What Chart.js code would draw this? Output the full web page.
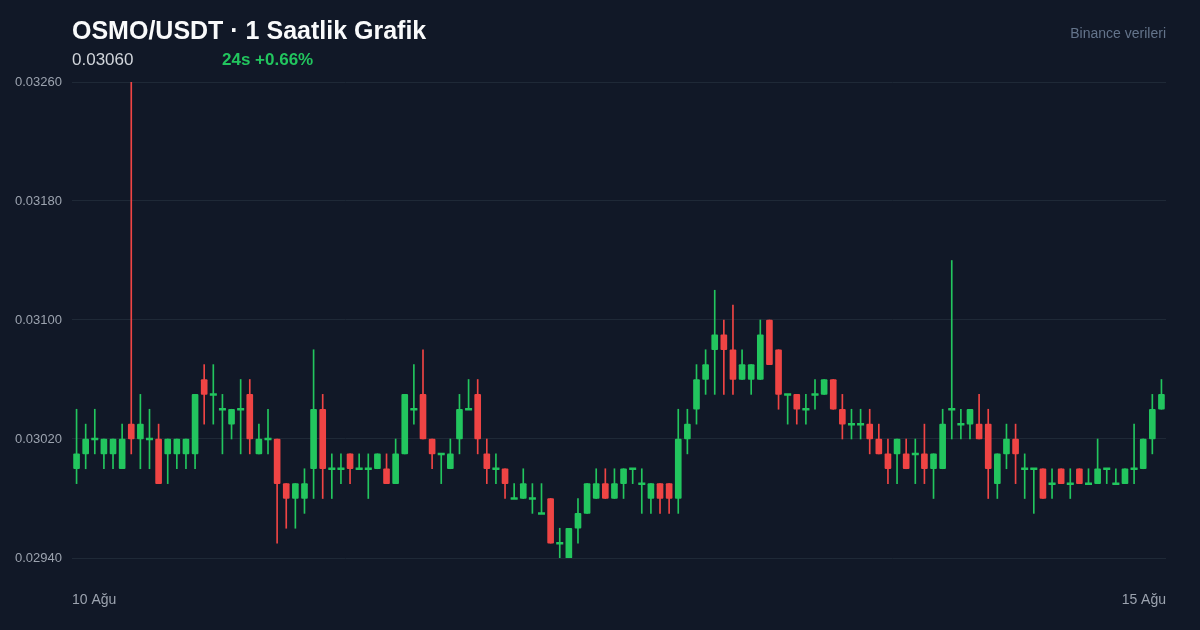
<!DOCTYPE html>
<html lang="tr">
<head>
<meta charset="utf-8">
<title>OSMO/USDT 1 Saatlik Grafik</title>
<script src="https://cdn.jsdelivr.net/npm/chart.js@4.4.0/dist/chart.umd.min.js"></script>
<style>
  html, body { margin: 0; padding: 0; background: #111827; }
  #wrap { position: relative; width: 1200px; height: 630px; overflow: hidden;
          font-family: "Liberation Sans", Arial, sans-serif; }
  #chart { position: absolute; left: 0; top: 0; }
  .title { position: absolute; left: 72px; top: 15px; line-height: 30px;
           font-size: 25px; font-weight: bold; color: #f9fafb; }
  .price { position: absolute; left: 72px; top: 50px; line-height: 20px;
           font-size: 17px; color: #d1d5db; }
  .change { position: absolute; left: 222px; top: 50px; line-height: 20px;
            font-size: 17px; font-weight: bold; color: #22c55e; }
  .source { position: absolute; right: 34px; top: 23px; line-height: 20px;
            font-size: 14px; color: #64748b; }
</style>
</head>
<body>
<div id="wrap">
  <canvas id="chart" width="1200" height="630"></canvas>
  <div class="title">OSMO/USDT · 1 Saatlik Grafik</div>
  <div class="price">0.03060</div>
  <div class="change">24s +0.66%</div>
  <div class="source">Binance verileri</div>
</div>
<script>
// hourly candles, 10 Ağu -> 15 Ağu
const opens = [
  0.0300, 0.0301, 0.0302, 0.0301, 0.0301, 0.0300, 0.0303, 0.0302, 0.0302, 0.0302,
  0.0301, 0.0301, 0.0301, 0.0301, 0.0306, 0.0305, 0.0304, 0.0303, 0.0304, 0.0305,
  0.0301, 0.0302, 0.0302, 0.0299, 0.0298, 0.0298, 0.0300, 0.0304, 0.0300, 0.0300,
  0.0301, 0.0300, 0.0300, 0.0300, 0.0300, 0.0299, 0.0301, 0.0304, 0.0305, 0.0302,
  0.0301, 0.0300, 0.0302, 0.0304, 0.0305, 0.0301, 0.0300, 0.0300, 0.0298, 0.0298,
  0.0298, 0.0297, 0.0298, 0.0295, 0.0294, 0.0296, 0.0297, 0.0298, 0.0299, 0.0298,
  0.0299, 0.0300, 0.0299, 0.0298, 0.0299, 0.0299, 0.0298, 0.0302, 0.0304, 0.0306,
  0.0308, 0.0309, 0.0308, 0.0306, 0.0306, 0.0306, 0.0310, 0.0308, 0.0305, 0.0305,
  0.0304, 0.0305, 0.0305, 0.0306, 0.0304, 0.0303, 0.0303, 0.0303, 0.0302, 0.0301,
  0.0301, 0.0301, 0.0301, 0.0301, 0.0300, 0.0300, 0.0304, 0.0303, 0.0303, 0.0303,
  0.0303, 0.0299, 0.0301, 0.0302, 0.0300, 0.0300, 0.0300, 0.0299, 0.0300, 0.0299,
  0.0300, 0.0299, 0.0299, 0.0300, 0.0299, 0.0299, 0.0300, 0.0300, 0.0302, 0.0304
];
const highs = [
  0.0304, 0.0303, 0.0304, 0.0302, 0.0302, 0.0303, 0.0326, 0.0305, 0.0304, 0.0303,
  0.0302, 0.0302, 0.0302, 0.0305, 0.0307, 0.0307, 0.0305, 0.0304, 0.0306, 0.0306,
  0.0303, 0.0304, 0.0302, 0.0299, 0.0299, 0.0300, 0.0308, 0.0305, 0.0301, 0.0301,
  0.0301, 0.0301, 0.0301, 0.0301, 0.0301, 0.0302, 0.0305, 0.0307, 0.0308, 0.0302,
  0.0301, 0.0302, 0.0305, 0.0306, 0.0306, 0.0302, 0.0301, 0.0300, 0.0299, 0.0300,
  0.0299, 0.0299, 0.0298, 0.0296, 0.0296, 0.0298, 0.0299, 0.0300, 0.0300, 0.0300,
  0.0300, 0.0300, 0.0300, 0.0299, 0.0299, 0.0299, 0.0304, 0.0304, 0.0307, 0.0308,
  0.0312, 0.0310, 0.0311, 0.0308, 0.0307, 0.0310, 0.0310, 0.0308, 0.0305, 0.0305,
  0.0305, 0.0306, 0.0306, 0.0306, 0.0305, 0.0304, 0.0304, 0.0304, 0.0303, 0.0302,
  0.0302, 0.0302, 0.0302, 0.0303, 0.0301, 0.0304, 0.0314, 0.0304, 0.0304, 0.0305,
  0.0304, 0.0301, 0.0303, 0.0303, 0.0301, 0.0300, 0.0300, 0.0300, 0.0300, 0.0300,
  0.0300, 0.0300, 0.0302, 0.0300, 0.0300, 0.0300, 0.0303, 0.0302, 0.0305, 0.0306
];
const lows = [
  0.0299, 0.0300, 0.0301, 0.0300, 0.0300, 0.0300, 0.0301, 0.0300, 0.0300, 0.0299,
  0.0299, 0.0300, 0.0300, 0.0300, 0.0303, 0.0303, 0.0301, 0.0302, 0.0301, 0.0301,
  0.0301, 0.0301, 0.0295, 0.0296, 0.0296, 0.0297, 0.0298, 0.0298, 0.0298, 0.0299,
  0.0299, 0.0300, 0.0298, 0.0300, 0.0299, 0.0299, 0.0301, 0.0303, 0.0302, 0.0300,
  0.0299, 0.0300, 0.0301, 0.0304, 0.0301, 0.0299, 0.0299, 0.0298, 0.0298, 0.0298,
  0.0297, 0.0297, 0.0295, 0.0294, 0.0294, 0.0295, 0.0297, 0.0298, 0.0298, 0.0298,
  0.0298, 0.0299, 0.0297, 0.0297, 0.0297, 0.0297, 0.0297, 0.0301, 0.0303, 0.0305,
  0.0305, 0.0305, 0.0305, 0.0306, 0.0305, 0.0306, 0.0307, 0.0304, 0.0303, 0.0303,
  0.0303, 0.0304, 0.0305, 0.0304, 0.0302, 0.0302, 0.0302, 0.0301, 0.0301, 0.0299,
  0.0299, 0.0300, 0.0299, 0.0299, 0.0298, 0.0300, 0.0302, 0.0302, 0.0302, 0.0302,
  0.0298, 0.0298, 0.0300, 0.0299, 0.0298, 0.0297, 0.0298, 0.0298, 0.0299, 0.0298,
  0.0299, 0.0299, 0.0299, 0.0299, 0.0299, 0.0299, 0.0299, 0.0300, 0.0301, 0.0304
];
const closes = [
  0.0301, 0.0302, 0.0302, 0.0302, 0.0302, 0.0302, 0.0302, 0.0303, 0.0302, 0.0299,
  0.0302, 0.0302, 0.0302, 0.0305, 0.0305, 0.0305, 0.0304, 0.0304, 0.0304, 0.0302,
  0.0302, 0.0302, 0.0299, 0.0298, 0.0299, 0.0299, 0.0304, 0.0300, 0.0300, 0.0300,
  0.0300, 0.0300, 0.0300, 0.0301, 0.0299, 0.0301, 0.0305, 0.0304, 0.0302, 0.0301,
  0.0301, 0.0301, 0.0304, 0.0304, 0.0302, 0.0300, 0.0300, 0.0299, 0.0298, 0.0299,
  0.0298, 0.0297, 0.0295, 0.0295, 0.0296, 0.0297, 0.0299, 0.0299, 0.0298, 0.0299,
  0.0300, 0.0300, 0.0299, 0.0299, 0.0298, 0.0298, 0.0302, 0.0303, 0.0306, 0.0307,
  0.0309, 0.0308, 0.0306, 0.0307, 0.0307, 0.0309, 0.0307, 0.0305, 0.0305, 0.0304,
  0.0304, 0.0305, 0.0306, 0.0304, 0.0303, 0.0303, 0.0303, 0.0302, 0.0301, 0.0300,
  0.0302, 0.0300, 0.0301, 0.0300, 0.0301, 0.0303, 0.0304, 0.0303, 0.0304, 0.0302,
  0.0300, 0.0301, 0.0302, 0.0301, 0.0300, 0.0300, 0.0298, 0.0299, 0.0299, 0.0299,
  0.0299, 0.0299, 0.0300, 0.0300, 0.0299, 0.0300, 0.0300, 0.0302, 0.0304, 0.0305
];
const yTicks = [0.0294, 0.0302, 0.0310, 0.0318, 0.0326];
const xTickLabels = ['10 Ağu', '15 Ağu'];

// one category per hour
const categories = [];
for (let i = 0; i < opens.length; i++) {
  const day = 10 + Math.floor((i + 1) / 24);
  const hour = (i + 1) % 24;
  categories.push(day + ' Ağu ' + String(hour).padStart(2, '0') + ':00');
}

const UP = '#22c55e';
const DOWN = '#ef4444';
const colors = opens.map((o, i) => closes[i] >= o ? UP : DOWN);
// open == close: drawn as a flat tick instead of a body
const dojis = opens.map((o, i) => closes[i] === o ? o : null);

Chart.defaults.font.family = '"Liberation Sans", Arial, sans-serif';

new Chart(document.getElementById('chart').getContext('2d'), {
  type: 'bar',
  data: {
    labels: categories,
    datasets: [
      {
        type: 'line',
        label: 'Doji',
        data: dojis,
        showLine: false,
        pointStyle: 'line',
        pointRadius: 3.5,
        pointBorderWidth: 2.5,
        pointBorderColor: UP,
        pointBackgroundColor: UP
      },
      {
        label: 'Gövde',
        data: opens.map((o, i) => [o, closes[i]]),
        backgroundColor: colors,
        barThickness: 6,
        borderRadius: 1,
        borderSkipped: false,
        grouped: false
      },
      {
        label: 'Fitil',
        data: lows.map((l, i) => [l, highs[i]]),
        backgroundColor: colors,
        barThickness: 1,
        grouped: false
      }
    ]
  },
  options: {
    responsive: false,
    animation: false,
    devicePixelRatio: 1,
    layout: { padding: { top: 82, right: 34, bottom: 0, left: 0 } },
    plugins: { legend: { display: false }, tooltip: { enabled: false } },
    scales: {
      x: { type: 'category', display: false, offset: true },
      x2: {
        type: 'linear',
        position: 'bottom',
        offset: false,
        min: 0,
        max: 1,
        grid: { display: false, offset: false },
        border: { display: false },
        afterBuildTicks: s => { s.ticks = xTickLabels.map((t, i) => ({ value: i / (xTickLabels.length - 1) })); },
        afterFit: s => { s.height = 72; },
        ticks: {
          align: 'inner',
          maxRotation: 0,
          padding: 26,
          color: '#9ca3af',
          font: { size: 14 },
          callback: (v, i) => xTickLabels[i]
        }
      },
      y: {
        min: yTicks[0],
        max: yTicks[yTicks.length - 1],
        afterBuildTicks: s => { s.ticks = yTicks.map(v => ({ value: v })); },
        afterFit: s => { s.width = 72; },
        grid: { color: '#1f2937', drawTicks: false },
        border: { display: false },
        ticks: {
          padding: 10,
          color: '#9ca3af',
          font: { size: 13 },
          callback: v => v.toFixed(5)
        }
      }
    }
  }
});
</script>
</body>
</html>
